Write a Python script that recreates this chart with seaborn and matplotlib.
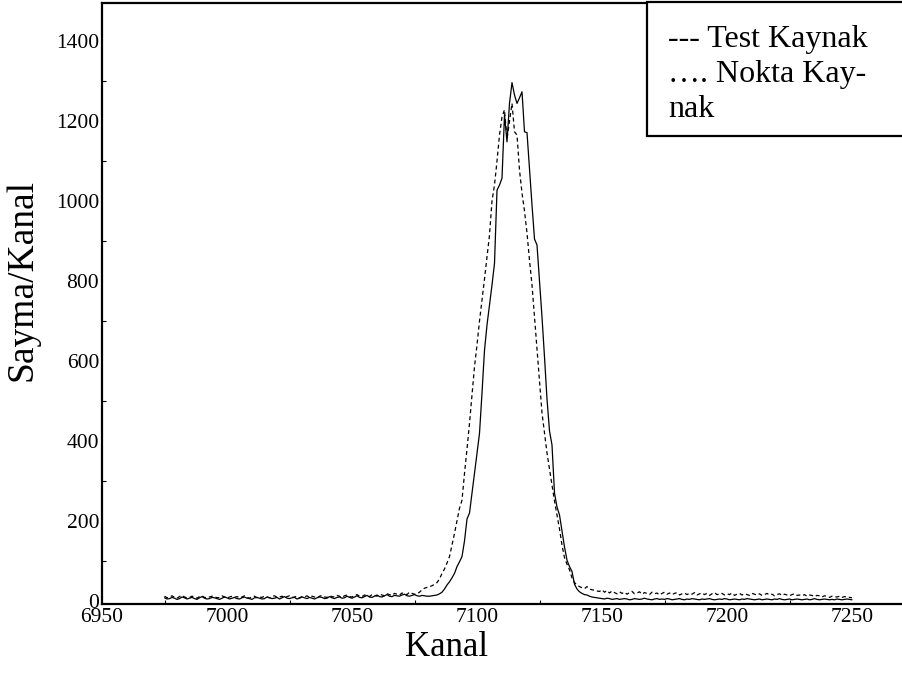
import numpy as np
import pandas as pd
import seaborn as sns
import matplotlib
matplotlib.use("Agg")
import matplotlib.pyplot as plt
from matplotlib.ticker import MultipleLocator
from matplotlib.patches import Rectangle

# ---------------- data ----------------
channel_start = 6975
channel_end = 7250

# solid curve
solid_left = [8, 5, 6, 9, 7, 4, 6, 10, 8, 5,
              7, 9, 6, 4, 8, 11, 7, 5, 6, 9,
              8, 6, 4, 7, 10, 8, 5, 7, 9, 6,
              5, 8, 10, 7, 6, 4, 8, 9, 7, 5,
              6, 10, 8, 6, 7, 9, 5, 8, 11, 7,
              6, 8, 9, 5, 7, 10, 8, 6, 9, 7,
              5, 8, 10, 9, 6, 7, 11, 8, 6, 9,
              10, 7, 8, 12, 9, 7, 10, 13, 9, 8,
              11, 14, 10, 9, 12, 15, 11, 10, 13, 16,
              12, 11, 14, 13, 12, 15, 17, 13, 12, 14,
              16, 13, 12, 14, 13, 12]                      # 6975..7080
solid_peak = [12, 13, 14, 15, 18, 22, 30, 40, 48, 58,
              69, 86, 98, 111, 150, 205, 220, 270, 319, 370,
              419, 520, 627, 690, 740, 790, 844, 1027, 1040, 1057,
              1215, 1148, 1244, 1296, 1265, 1244, 1258, 1273, 1173, 1171,
              1080, 990, 905, 890, 800, 710, 610, 505, 425, 390,
              270, 235, 215, 175, 135, 102, 86, 74, 42, 30,
              23, 19, 16, 15, 12, 10, 9, 8]                # 7081..7148
solid_right = [7, 6, 5, 7, 6, 4, 5, 6, 4, 5,
               6, 5, 3, 4, 6, 5, 4, 5, 7, 5,
               4, 3, 5, 6, 4, 5, 4, 6, 5, 3,
               4, 5, 6, 4, 3, 5, 4, 6, 5, 4,
               3, 5, 4, 5, 6, 4, 3, 4, 5, 4,
               6, 5, 3, 4, 5, 4, 3, 5, 4, 6,
               5, 4, 3, 4, 5, 3, 4, 5, 4, 3,
               5, 4, 6, 4, 3, 4, 5, 3, 4, 5,
               4, 3, 4, 5, 3, 4, 6, 4, 3, 4,
               5, 4, 3, 4, 3, 5, 4, 3, 4, 5,
               4, 3]                                       # 7149..7250

# dashed curve
dashed_left = [12, 8, 10, 13, 9, 7, 11, 14, 10, 8,
               9, 12, 10, 7, 11, 13, 9, 8, 10, 12,
               11, 8, 9, 13, 10, 7, 10, 12, 9, 11,
               8, 10, 13, 9, 7, 11, 12, 8, 10, 9,
               12, 10, 8, 11, 13, 9, 10, 12, 8, 11,
               13, 9, 10, 12, 8, 11, 10, 13, 9, 12,
               10, 8, 12, 14, 10, 9, 13, 11, 10, 14,
               12, 9, 13, 15, 11, 10, 14, 16, 12, 11,
               15, 13, 11, 16, 14, 12, 17, 15, 13, 18,
               16, 14, 19, 17, 15, 20, 18, 16, 22, 19,
               17]                                         # 6975..7075
dashed_peak = [18, 22, 28, 32, 34, 36, 38, 42, 46, 55,
               69, 80, 95, 111, 140, 169, 200, 232, 252, 319,
               380, 444, 515, 586, 640, 700, 752, 805, 860, 915,
               1000, 1040, 1100, 1165, 1210, 1228, 1155, 1200, 1244, 1173,
               1165, 1077, 1020, 975, 920, 852, 790, 710, 630, 550,
               470, 420, 370, 330, 290, 250, 215, 180, 140, 108,
               92, 78, 58, 46, 40, 36, 33, 31, 36, 30,
               28, 27, 25]                                 # 7076..7148
dashed_right = [24, 28, 22, 26, 20, 25, 21, 18, 23, 19,
                22, 17, 21, 24, 18, 20, 23, 17, 21, 19,
                16, 22, 18, 20, 15, 19, 22, 17, 20, 16,
                19, 21, 15, 18, 20, 16, 19, 17, 21, 15,
                18, 20, 16, 19, 14, 18, 21, 16, 17, 19,
                15, 18, 16, 20, 14, 17, 19, 15, 18, 16,
                14, 19, 17, 15, 18, 14, 16, 19, 15, 17,
                13, 16, 18, 14, 17, 15, 13, 16, 18, 14,
                15, 13, 16, 12, 15, 14, 11, 14, 13, 10,
                13, 12, 9, 12, 11, 10, 12, 9, 11, 10,
                9, 8]                                      # 7149..7250

x_ticks = [6950, 7000, 7050, 7100, 7150, 7200, 7250]
y_ticks = [0, 200, 400, 600, 800, 1000, 1200, 1400]
x_label = "Kanal"
y_label = "Sayma/Kanal"
legend_lines = ["--- Test Kaynak", "…. Nokta Kay-", "nak"]

channels = np.arange(channel_start, channel_end + 1)
solid_vals = np.array(solid_left + solid_peak + solid_right)
dashed_vals = np.array(dashed_left + dashed_peak + dashed_right)
df = pd.DataFrame({"Kanal": channels, "solid": solid_vals, "dashed": dashed_vals})

# ---------------- style ----------------
sns.set_style("ticks")
plt.rcParams['font.family'] = ['Liberation Serif', 'DejaVu Serif']
plt.rcParams['text.color'] = 'black'
plt.rcParams['axes.labelcolor'] = 'black'
plt.rcParams['xtick.color'] = 'black'
plt.rcParams['ytick.color'] = 'black'

W, H = 902, 673
fig = plt.figure(figsize=(W / 100, H / 100), dpi=100)
ax = fig.add_axes([102 / W, 69 / H, 800 / W, 601 / H])

sns.lineplot(data=df, x="Kanal", y="dashed", ax=ax, color="black",
             linewidth=0.9, linestyle=(0, (3.2, 2.4)), estimator=None)
sns.lineplot(data=df, x="Kanal", y="solid", ax=ax, color="black",
             linewidth=0.9, estimator=None)

ax.set_xlim(6950, 7270)
ax.set_ylim(-7.5, 1495)

ax.set_xticks(x_ticks)
ax.set_xticklabels([str(t) for t in x_ticks])
ax.set_yticks(y_ticks)
ax.set_yticklabels([str(t) for t in y_ticks])
ax.xaxis.set_minor_locator(MultipleLocator(25))
ax.yaxis.set_minor_locator(MultipleLocator(100))
ax.tick_params(axis="both", which="major", length=0, labelsize=15.5,
               colors="black", labelcolor="black")
ax.tick_params(axis="x", which="major", pad=3)
ax.tick_params(axis="y", which="major", pad=2)
ax.tick_params(axis="both", which="minor", direction="in", length=3, width=0.8, color="black")

for s in ["left", "bottom", "top"]:
    ax.spines[s].set_linewidth(1.6)
    ax.spines[s].set_color("black")
ax.spines["right"].set_visible(False)

ax.set_xlabel(x_label, fontsize=25, color="black")
ax.set_ylabel(y_label, fontsize=27, color="black")
ax.xaxis.set_label_coords((447 - 102) / 800, -0.045)
ax.yaxis.set_label_coords((40 - 102) / 800, (604 - 280) / 601)

# legend box drawn as text in a frame
rect = Rectangle((647 / W, 1 - 136 / H), (915 - 647) / W, 134 / H,
                 transform=fig.transFigure, facecolor="white",
                 edgecolor="black", linewidth=1.6, zorder=5, clip_on=False)
fig.patches.append(rect)
for i, line in enumerate(legend_lines):
    fig.text(668 / W, 1 - (47 + 35 * i) / H, line, fontsize=23, color="black",
             va="baseline", ha="left", zorder=6)

fig.savefig("out.png", dpi=100)
